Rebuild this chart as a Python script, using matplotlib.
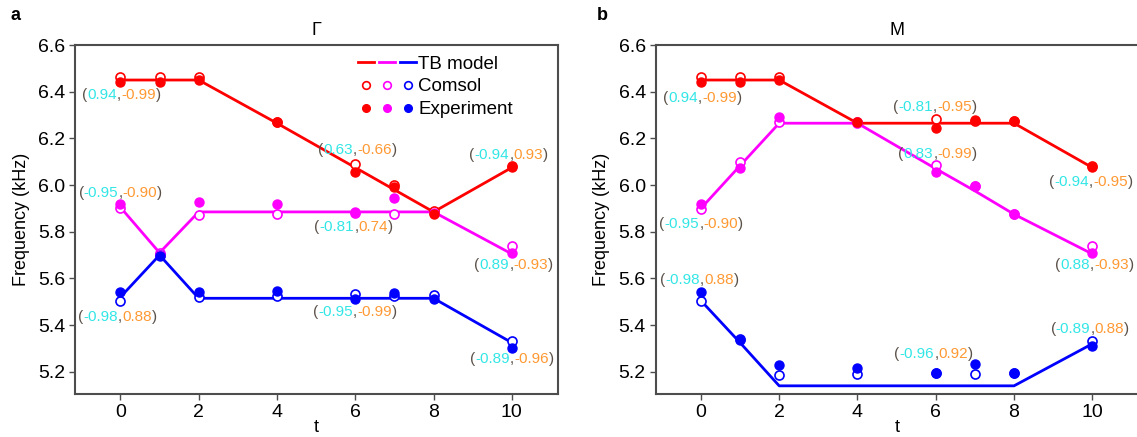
import numpy as np
import matplotlib
matplotlib.use("Agg")
import matplotlib.pyplot as plt
from matplotlib.lines import Line2D
from matplotlib.legend_handler import HandlerTuple
from matplotlib.offsetbox import TextArea, HPacker, AnnotationBbox

plt.rcParams['font.family'] = ['Liberation Sans', 'DejaVu Sans']

# wavevector points t
t = [0, 1, 2, 4, 6, 7, 8, 10]

# ---- panel a: Gamma ----
tb_r_G = [6.45, 6.45, 6.45, 6.265, 6.075, 5.98, 5.885, 6.075]
co_r_G = [6.465, 6.465, 6.465, 6.27, 6.09, 6.0, 5.89, 6.08]
ex_r_G = [6.44, 6.44, 6.45, 6.27, 6.055, 5.99, 5.875, 6.077]

tb_m_G = [5.905, 5.71, 5.885, 5.885, 5.885, 5.885, 5.885, 5.705]
co_m_G = [5.90, 5.71, 5.873, 5.876, 5.88, 5.877, 5.885, 5.74]
ex_m_G = [5.919, 5.70, 5.929, 5.919, 5.883, 5.944, 5.88, 5.711]

tb_b_G = [5.52, 5.70, 5.515, 5.515, 5.515, 5.515, 5.515, 5.325]
co_b_G = [5.505, 5.70, 5.52, 5.523, 5.533, 5.525, 5.53, 5.333]
ex_b_G = [5.544, 5.695, 5.541, 5.547, 5.511, 5.536, 5.511, 5.304]

# ---- panel b: M ----
tb_r_M = [6.45, 6.45, 6.45, 6.265, 6.265, 6.265, 6.265, 6.075]
co_r_M = [6.465, 6.465, 6.465, 6.27, 6.282, 6.275, 6.275, 6.08]
ex_r_M = [6.44, 6.44, 6.45, 6.27, 6.246, 6.277, 6.275, 6.077]

tb_m_M = [5.90, 6.083, 6.265, 6.265, 6.07, 5.975, 5.875, 5.705]
co_m_M = [5.897, 6.098, 6.27, 6.265, 6.085, 5.995, 5.875, 5.738]
ex_m_M = [5.919, 6.072, 6.291, 6.27, 6.055, 5.996, 5.875, 5.71]

tb_b_M = [5.505, 5.325, 5.14, 5.14, 5.14, 5.14, 5.14, 5.32]
co_b_M = [5.503, 5.34, 5.188, 5.19, 5.195, 5.19, 5.195, 5.33]
ex_b_M = [5.543, 5.337, 5.228, 5.217, 5.197, 5.233, 5.197, 5.31]

# overlap labels (first, second) and where they sit (t, freq)
lab_G = [("0.94", "-0.99"), ("0.63", "-0.66"), ("-0.94", "0.93"),
         ("-0.95", "-0.90"), ("-0.81", "0.74"), ("0.89", "-0.93"),
         ("-0.98", "0.88"), ("-0.95", "-0.99"), ("-0.89", "-0.96")]
lab_G_t = [0.03, 6.06, 9.92, 0.0, 5.96, 10.05, -0.07, 5.99, 10.0]
lab_G_f = [6.384, 6.15, 6.129, 5.966, 5.821, 5.658, 5.436, 5.457, 5.256]

lab_M = [("0.94", "-0.99"), ("-0.81", "-0.95"), ("0.83", "-0.99"),
         ("-0.94", "-0.95"), ("-0.95", "-0.90"), ("0.88", "-0.93"),
         ("-0.98", "0.88"), ("-0.96", "0.92"), ("-0.89", "0.88")]
lab_M_t = [0.04, 5.98, 6.05, 9.97, 0.01, 10.06, -0.04, 5.95, 9.94]
lab_M_f = [6.373, 6.335, 6.133, 6.015, 5.834, 5.658, 5.594, 5.277, 5.384]

RED, MAG, BLUE = '#ff0000', '#ff00ff', '#0000ff'
CYAN, ORANGE, DARK = '#33e6e6', '#ff9933', '#5a5048'
SPINE = '#4d4d4d'


def draw_panel(ax, title, series, labels, lab_t, lab_f):
    for tb, co, ex, c in series:
        ax.plot(t, tb, color=c, lw=2.0, zorder=2)
    for tb, co, ex, c in series:
        ax.plot(t, co, 'o', mfc='white', mec=c, mew=1.2, ms=6.5, ls='none', zorder=3)
    for tb, co, ex, c in series:
        ax.plot(t, ex, 'o', color=c, ms=6.5, ls='none', zorder=4)

    for (a, b), x, y in zip(labels, lab_t, lab_f):
        parts = [("(", DARK), (a, CYAN), (",", DARK), (b, ORANGE), (")", DARK)]
        box = HPacker(children=[TextArea(s, textprops=dict(color=c, size=11))
                                for s, c in parts], pad=0, sep=0)
        ab = AnnotationBbox(box, (x, y), frameon=False, box_alignment=(0.5, 0.5),
                            pad=0, zorder=5)
        ax.add_artist(ab)

    ax.set_xlim(-1.16, 11.18)
    ax.set_ylim(5.105, 6.6)
    ax.set_xticks([0, 2, 4, 6, 8, 10])
    ax.set_yticks(np.arange(5.2, 6.61, 0.2))
    ax.set_yticklabels(['%.1f' % v for v in np.arange(5.2, 6.61, 0.2)])
    ax.tick_params(direction='out', length=4, width=1, color=SPINE, labelsize=14,
                   pad=3)
    for s in ax.spines.values():
        s.set_color(SPINE)
        s.set_linewidth(1.5)
    ax.set_title(title, fontsize=13, pad=7)
    ax.set_xlabel('t', fontsize=13, labelpad=-1)
    ax.set_ylabel('Frequency (kHz)', fontsize=13, labelpad=6)


fig = plt.figure(figsize=(11.37, 4.37), dpi=100)
W, H = 1137, 437
ax1 = fig.add_axes([75 / W, 43 / H, 483 / W, 349 / H])
ax2 = fig.add_axes([655.5 / W, 43 / H, 483 / W, 349 / H])

draw_panel(ax1, 'Γ', [(tb_m_G, co_m_G, ex_m_G, MAG), (tb_r_G, co_r_G, ex_r_G, RED),
                      (tb_b_G, co_b_G, ex_b_G, BLUE)], lab_G, lab_G_t, lab_G_f)
draw_panel(ax2, 'M', [(tb_m_M, co_m_M, ex_m_M, MAG), (tb_r_M, co_r_M, ex_r_M, RED),
                      (tb_b_M, co_b_M, ex_b_M, BLUE)], lab_M, lab_M_t, lab_M_f)

# legend with three colours per entry
h_tb = tuple(Line2D([], [], color=c, lw=2.0) for c in (RED, MAG, BLUE))
h_co = tuple(Line2D([], [], marker='o', mfc='white', mec=c, mew=1.2, ms=5.5, ls='none')
             for c in (RED, MAG, BLUE))
h_ex = tuple(Line2D([], [], marker='o', color=c, ms=5.5, ls='none')
             for c in (RED, MAG, BLUE))
ax1.legend([h_tb, h_co, h_ex], ['TB model', 'Comsol', 'Experiment'],
           handler_map={tuple: HandlerTuple(ndivide=None, pad=0.25)},
           loc='upper left', bbox_to_anchor=(0.586, 0.97), frameon=False,
           fontsize=13.5, handlelength=3.1, handletextpad=0.1, labelspacing=0.3,
           borderpad=0, borderaxespad=0)

fig.text(10 / W, 1 - 15 / H, 'a', fontsize=13, fontweight='bold', va='center')
fig.text(597 / W, 1 - 15 / H, 'b', fontsize=13, fontweight='bold', va='center')

fig.savefig('out.png', dpi=100)
